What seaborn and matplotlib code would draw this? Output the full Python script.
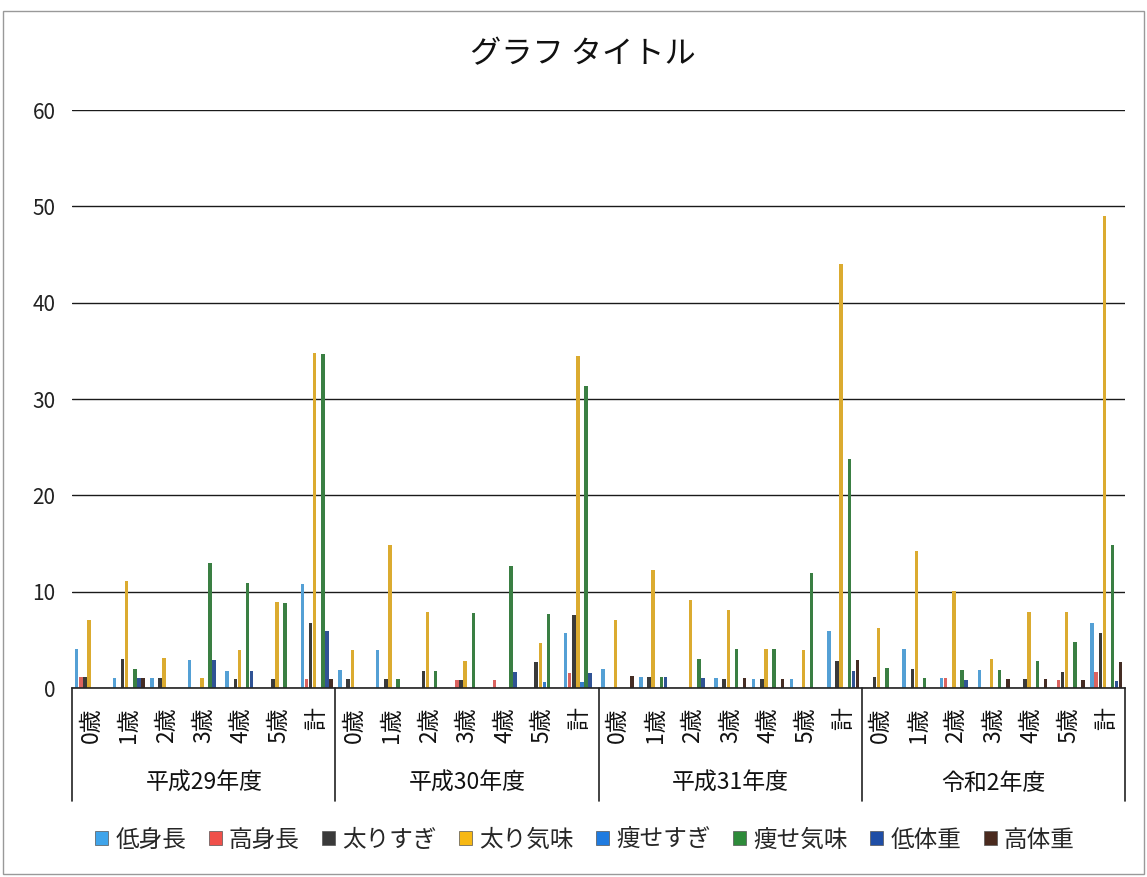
import matplotlib.pyplot as plt
import seaborn as sns
import pandas as pd
from matplotlib.patches import Patch
from matplotlib.transforms import blended_transform_factory

sns.set_theme(style="whitegrid")
plt.rcParams["font.family"] = ["Noto Sans CJK JP", "DejaVu Sans"]

# 年度・年齢
nendo = ["平成29年度", "平成30年度", "平成31年度", "令和2年度"]
nenrei = ["0歳", "1歳", "2歳", "3歳", "4歳", "5歳", "計"]

series = ["低身長", "高身長", "太りすぎ", "太り気味", "痩せすぎ", "痩せ気味", "低体重", "高体重"]
colors = ["#3fa4ea", "#f0504a", "#3a3a3a", "#f7b813", "#1f7be0", "#2e8b3a", "#1f4ea6", "#4a2a1e"]

# 各系列 (年度ごとに 0歳..5歳, 計)
teishincho = [4.0, 1.0, 1.0, 2.9, 1.8, 0, 10.8,
              1.9, 3.9, 0, 0, 0, 0, 5.7,
              2.0, 1.1, 0, 1.0, 0.9, 0.9, 5.9,
              0, 4.1, 1.0, 1.9, 0, 0, 6.8]
koshincho = [1.1, 0, 0, 0, 0, 0, 0.9,
             0, 0, 0, 0.8, 0.8, 0, 1.6,
             0, 0, 0, 0, 0, 0, 0,
             0, 0, 1.0, 0, 0, 0.8, 1.7]
futorisugi = [1.1, 3.0, 1.0, 0, 0.9, 0.9, 6.8,
              0.9, 0.9, 1.8, 0.8, 0, 2.7, 7.6,
              0, 1.1, 0, 0.9, 0.9, 0, 2.8,
              1.1, 2.0, 0, 0, 0.9, 1.7, 5.7]
futorigimi = [7.1, 11.1, 3.1, 1.0, 3.9, 8.9, 34.8,
              3.9, 14.8, 7.9, 2.8, 0, 4.7, 34.5,
              7.1, 12.2, 9.1, 8.1, 4.0, 3.9, 44.0,
              6.2, 14.2, 10.1, 3.0, 7.9, 7.9, 49.0]
yasesugi = [0, 0, 0, 0, 0, 0, 0,
            0, 0, 0, 0, 0, 0.6, 0.6,
            0, 0, 0, 0, 0, 0, 0,
            0, 0, 0, 0, 0, 0, 0]
yasegimi = [0, 2.0, 0, 13.0, 10.9, 8.8, 34.7,
            0, 0.9, 1.8, 7.8, 12.7, 7.7, 31.4,
            0, 1.1, 3.0, 4.0, 4.0, 11.9, 23.8,
            2.1, 1.0, 1.9, 1.9, 2.8, 4.8, 14.8]
teitaiju = [0, 1.0, 0, 2.9, 1.8, 0, 5.9,
            0, 0, 0, 0, 1.7, 0, 1.6,
            0, 1.1, 1.0, 0, 0, 0, 1.8,
            0, 0, 0.8, 0, 0, 0, 0.7]
kotaiju = [0, 1.0, 0, 0, 0, 0, 0.9,
           0, 0, 0, 0, 0, 0, 0,
           1.2, 0, 0, 1.0, 0.9, 0, 2.9,
           0, 0, 0, 0.9, 0.9, 0.8, 2.7]

values = [teishincho, koshincho, futorisugi, futorigimi, yasesugi, yasegimi, teitaiju, kotaiju]

keys = [f"{n}|{a}" for n in nendo for a in nenrei]
rows = []
for name, vals in zip(series, values):
    for k, v in zip(keys, vals):
        rows.append({"key": k, "series": name, "value": v})
df = pd.DataFrame(rows)

fig = plt.figure(figsize=(11.47, 8.77), dpi=100)
ax = fig.add_axes([0.063, 0.2155, 0.918, 0.659])

sns.barplot(data=df, x="key", y="value", hue="series", order=keys, hue_order=series,
            palette=colors, width=0.87, gap=0.15, linewidth=0, errorbar=None,
            legend=False, ax=ax)

ax.set_xlim(-0.5, len(keys) - 0.5)
ax.set_ylim(0, 60)
ax.set_yticks(range(0, 61, 10))
ax.set_yticklabels([str(t) for t in range(0, 61, 10)], fontsize=15)
ax.tick_params(axis="y", colors="#222222", pad=12, length=0)
ax.set_xticks(range(len(keys)))
ax.set_xticklabels(nenrei * len(nendo), rotation=90, fontsize=16.5)
ax.tick_params(axis="x", pad=14, length=0, colors="#111111")
ax.set_xlabel("")
ax.set_ylabel("")
ax.grid(axis="y", color="#1a1a1a", linewidth=1.0)
ax.grid(axis="x", visible=False)
for s in ["left", "right", "top"]:
    ax.spines[s].set_visible(False)
ax.spines["bottom"].set_color("#222222")
ax.spines["bottom"].set_linewidth(1.2)

# 年度の区切りとラベル
trans = blended_transform_factory(ax.transData, ax.transAxes)
for i in range(len(nendo) + 1):
    xb = i * len(nenrei) - 0.5
    ax.plot([xb, xb], [0, -0.195], transform=trans, color="#222222", lw=1.2, clip_on=False)
for i, n in enumerate(nendo):
    xc = i * len(nenrei) + (len(nenrei) - 1) / 2
    ax.text(xc, -0.165, n, transform=trans, ha="center", va="center", fontsize=16.5, color="#111111")

fig.suptitle("グラフ タイトル", x=0.508, y=0.957, fontsize=22.5, color="#111111")

handles = [Patch(facecolor=c, edgecolor="#555555", linewidth=0.5) for c in colors]
fig.legend(handles, series, loc="center", bbox_to_anchor=(0.51, 0.042), ncol=8,
           frameon=False, fontsize=17, handlelength=0.55, handleheight=0.55,
           handletextpad=0.3, columnspacing=0.95)

fig.add_artist(plt.Rectangle((0.003, 0.003), 0.994, 0.984, transform=fig.transFigure,
                             fill=False, edgecolor="#999999", lw=1))

plt.savefig("out.png", dpi=100)
